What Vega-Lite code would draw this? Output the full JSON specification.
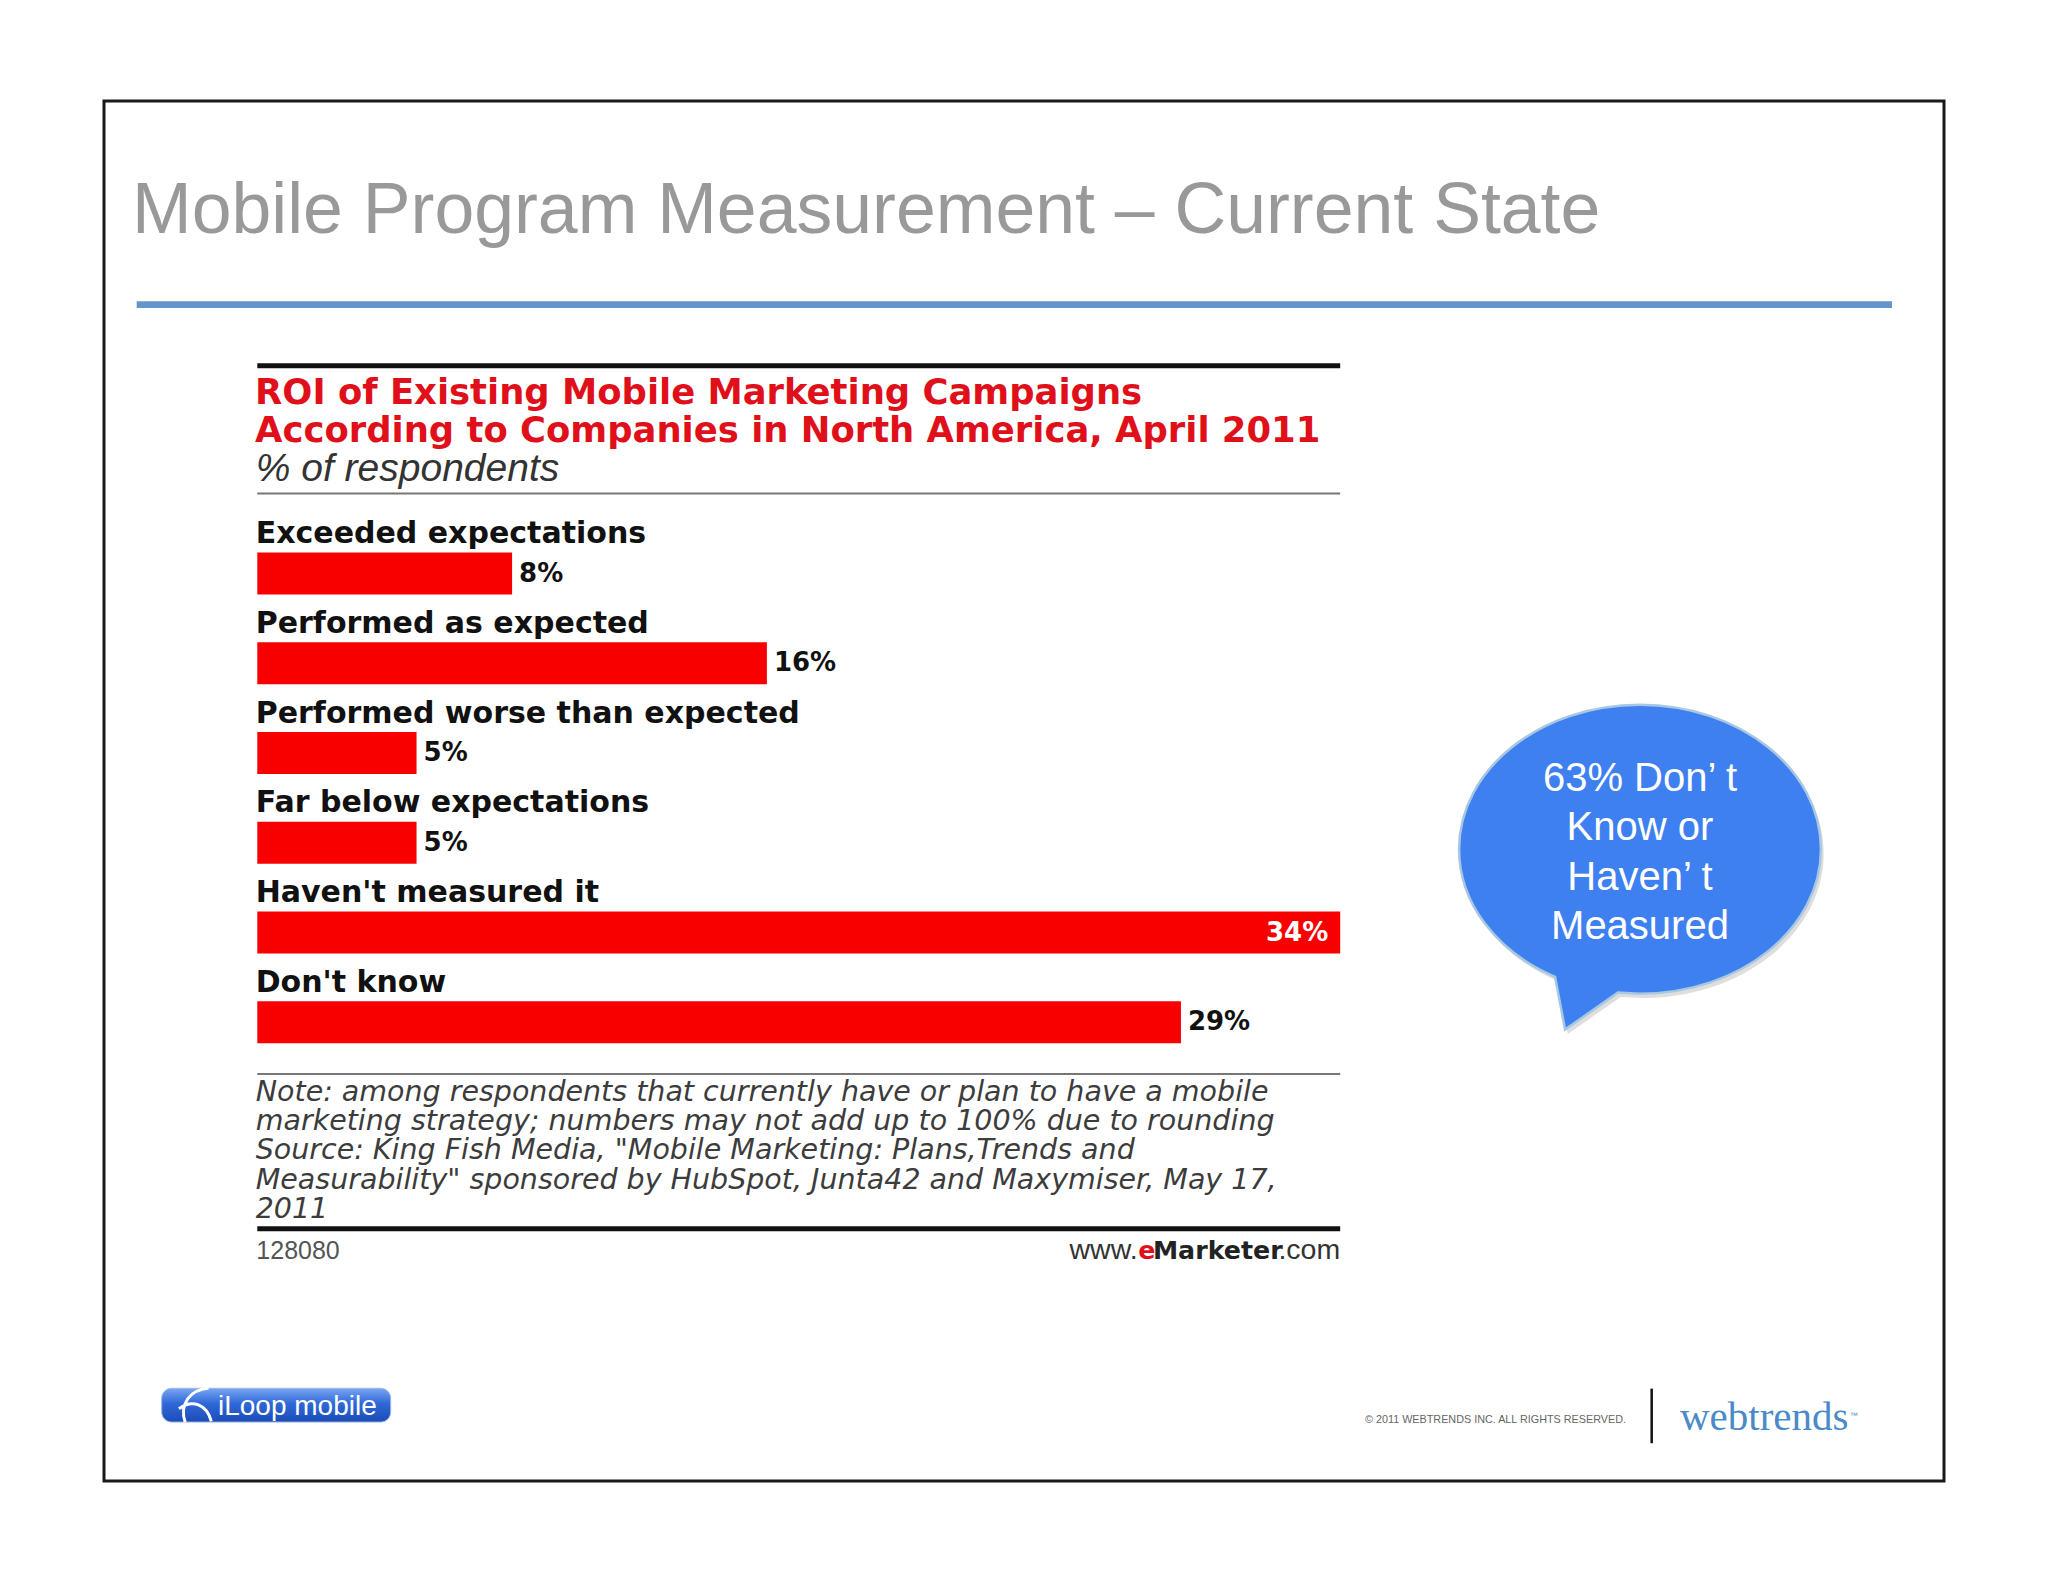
{
  "$schema": "https://vega.github.io/schema/vega-lite/v6.json",
  "width": 1840,
  "height": 1380,
  "autosize": {"type": "none"},
  "padding": {"left": 104, "top": 101, "right": 104, "bottom": 101},
  "background": "#ffffff",
  "config": {"view": {"stroke": "#1a1a1a", "strokeWidth": 3}, "axis": {"disable": true}},
  "datasets": {
    "roi": [
      {"rank": 1, "label": "Exceeded expectations", "pct": 8, "value_label": "8%"},
      {"rank": 2, "label": "Performed as expected", "pct": 16, "value_label": "16%"},
      {"rank": 3, "label": "Performed worse than expected", "pct": 5, "value_label": "5%"},
      {"rank": 4, "label": "Far below expectations", "pct": 5, "value_label": "5%"},
      {"rank": 5, "label": "Haven't measured it", "pct": 34, "value_label": "34%"},
      {"rank": 6, "label": "Don't know", "pct": 29, "value_label": "29%"}
    ],
    "one": [{}]
  },
  "layer": [
    {
      "data": {"name": "one"},
      "mark": {"type": "text", "text": "Mobile Program Measurement – Current State", "font": "Liberation Sans", "fontSize": 71.6, "fill": "#999999", "align": "left", "baseline": "alphabetic"},
      "encoding": {
        "x": {"datum": -3.934, "type": "quantitative", "scale": {"domain": [-4.813, 52.958], "nice": false, "zero": false}},
        "y": {"datum": -2.791, "type": "quantitative", "scale": {"domain": [-4.2102, 11.0553], "nice": false, "zero": false, "reverse": true}}
      }
    },
    {
      "data": {"name": "one"},
      "mark": {"type": "rule", "color": "#6395c9", "strokeWidth": 6.7},
      "encoding": {
        "x": {"datum": -3.787, "type": "quantitative", "scale": {"domain": [-4.813, 52.958], "nice": false, "zero": false}},
        "x2": {"datum": 51.325},
        "y": {"datum": -1.998, "type": "quantitative", "scale": {"domain": [-4.2102, 11.0553], "nice": false, "zero": false, "reverse": true}}
      }
    },
    {
      "data": {"name": "one"},
      "mark": {"type": "rule", "color": "#111111", "strokeWidth": 5},
      "encoding": {
        "x": {"datum": 0, "type": "quantitative", "scale": {"domain": [-4.813, 52.958], "nice": false, "zero": false}},
        "x2": {"datum": 34},
        "y": {"datum": -1.315, "type": "quantitative", "scale": {"domain": [-4.2102, 11.0553], "nice": false, "zero": false, "reverse": true}}
      }
    },
    {
      "data": {"name": "one"},
      "mark": {"type": "text", "text": ["ROI of Existing Mobile Marketing Campaigns", "According to Companies in North America, April 2011"], "font": "DejaVu Sans", "fontWeight": "bold", "fontSize": 35.4, "lineHeight": 38, "fill": "#e0101a", "align": "left", "baseline": "alphabetic"},
      "encoding": {
        "x": {"datum": -0.07, "type": "quantitative", "scale": {"domain": [-4.813, 52.958], "nice": false, "zero": false}},
        "y": {"datum": -0.888, "type": "quantitative", "scale": {"domain": [-4.2102, 11.0553], "nice": false, "zero": false, "reverse": true}}
      }
    },
    {
      "data": {"name": "one"},
      "mark": {"type": "text", "text": "% of respondents", "font": "Liberation Sans", "fontStyle": "italic", "fontSize": 39, "fill": "#333333", "align": "left", "baseline": "alphabetic"},
      "encoding": {
        "x": {"datum": -0.05, "type": "quantitative", "scale": {"domain": [-4.813, 52.958], "nice": false, "zero": false}},
        "y": {"datum": -0.0288, "type": "quantitative", "scale": {"domain": [-4.2102, 11.0553], "nice": false, "zero": false, "reverse": true}}
      }
    },
    {
      "data": {"name": "one"},
      "mark": {"type": "rule", "color": "#777777", "strokeWidth": 2},
      "encoding": {
        "x": {"datum": 0, "type": "quantitative", "scale": {"domain": [-4.813, 52.958], "nice": false, "zero": false}},
        "x2": {"datum": 34},
        "y": {"datum": 0.1066, "type": "quantitative", "scale": {"domain": [-4.2102, 11.0553], "nice": false, "zero": false, "reverse": true}}
      }
    },
    {
      "data": {"name": "roi"},
      "mark": {"type": "bar", "orient": "horizontal", "height": 42, "color": "#f80000"},
      "encoding": {
        "x": {"field": "pct", "type": "quantitative", "scale": {"domain": [-4.813, 52.958], "nice": false, "zero": false}},
        "y": {"field": "rank", "type": "quantitative", "scale": {"domain": [-4.2102, 11.0553], "nice": false, "zero": false, "reverse": true}}
      }
    },
    {
      "data": {"name": "roi"},
      "mark": {"type": "text", "font": "DejaVu Sans", "fontWeight": "bold", "fontSize": 30, "fill": "#111111", "align": "left", "baseline": "alphabetic", "dy": -30.5},
      "encoding": {
        "x": {"datum": -0.05, "type": "quantitative", "scale": {"domain": [-4.813, 52.958], "nice": false, "zero": false}},
        "y": {"field": "rank", "type": "quantitative", "scale": {"domain": [-4.2102, 11.0553], "nice": false, "zero": false, "reverse": true}},
        "text": {"field": "label"}
      }
    },
    {
      "data": {"name": "roi"},
      "transform": [{"filter": "datum.pct < 34"}],
      "mark": {"type": "text", "font": "DejaVu Sans", "fontWeight": "bold", "fontSize": 26, "fill": "#111111", "align": "left", "baseline": "middle", "dx": 7},
      "encoding": {
        "x": {"field": "pct", "type": "quantitative", "scale": {"domain": [-4.813, 52.958], "nice": false, "zero": false}},
        "y": {"field": "rank", "type": "quantitative", "scale": {"domain": [-4.2102, 11.0553], "nice": false, "zero": false, "reverse": true}},
        "text": {"field": "value_label"}
      }
    },
    {
      "data": {"name": "roi"},
      "transform": [{"filter": "datum.pct >= 34"}],
      "mark": {"type": "text", "font": "DejaVu Sans", "fontWeight": "bold", "fontSize": 26, "fill": "#ffffff", "align": "right", "baseline": "middle", "dx": -12},
      "encoding": {
        "x": {"field": "pct", "type": "quantitative", "scale": {"domain": [-4.813, 52.958], "nice": false, "zero": false}},
        "y": {"field": "rank", "type": "quantitative", "scale": {"domain": [-4.2102, 11.0553], "nice": false, "zero": false, "reverse": true}},
        "text": {"field": "value_label"}
      }
    },
    {
      "data": {"name": "one"},
      "mark": {"type": "rule", "color": "#777777", "strokeWidth": 2},
      "encoding": {
        "x": {"datum": 0, "type": "quantitative", "scale": {"domain": [-4.813, 52.958], "nice": false, "zero": false}},
        "x2": {"datum": 34},
        "y": {"datum": 6.575, "type": "quantitative", "scale": {"domain": [-4.2102, 11.0553], "nice": false, "zero": false, "reverse": true}}
      }
    },
    {
      "data": {"name": "one"},
      "mark": {"type": "text", "text": ["Note: among respondents that currently have or plan to have a mobile", "marketing strategy; numbers may not add up to 100% due to rounding", "Source: King Fish Media, \"Mobile Marketing: Plans,Trends and", "Measurability\" sponsored by HubSpot, Junta42 and Maxymiser, May 17,", "2011"], "font": "DejaVu Sans", "fontStyle": "italic", "fontSize": 28.5, "lineHeight": 29.2, "fill": "#3c3c3c", "align": "left", "baseline": "alphabetic"},
      "encoding": {
        "x": {"datum": -0.05, "type": "quantitative", "scale": {"domain": [-4.813, 52.958], "nice": false, "zero": false}},
        "y": {"datum": 6.877, "type": "quantitative", "scale": {"domain": [-4.2102, 11.0553], "nice": false, "zero": false, "reverse": true}}
      }
    },
    {
      "data": {"name": "one"},
      "mark": {"type": "rule", "color": "#111111", "strokeWidth": 5},
      "encoding": {
        "x": {"datum": 0, "type": "quantitative", "scale": {"domain": [-4.813, 52.958], "nice": false, "zero": false}},
        "x2": {"datum": 34},
        "y": {"datum": 8.3006, "type": "quantitative", "scale": {"domain": [-4.2102, 11.0553], "nice": false, "zero": false, "reverse": true}}
      }
    },
    {
      "data": {"name": "one"},
      "mark": {"type": "text", "text": "128080", "font": "Liberation Sans", "fontSize": 25, "fill": "#555555", "align": "left", "baseline": "alphabetic"},
      "encoding": {
        "x": {"datum": -0.03, "type": "quantitative", "scale": {"domain": [-4.813, 52.958], "nice": false, "zero": false}},
        "y": {"datum": 8.632, "type": "quantitative", "scale": {"domain": [-4.2102, 11.0553], "nice": false, "zero": false, "reverse": true}}
      }
    },
    {
      "data": {"name": "one"},
      "mark": {"type": "text", "text": "www.", "font": "Liberation Sans", "fontSize": 28.5, "fill": "#333333", "align": "left", "baseline": "alphabetic"},
      "encoding": {
        "x": {"datum": 25.5, "type": "quantitative", "scale": {"domain": [-4.813, 52.958], "nice": false, "zero": false}},
        "y": {"datum": 8.632, "type": "quantitative", "scale": {"domain": [-4.2102, 11.0553], "nice": false, "zero": false, "reverse": true}}
      }
    },
    {
      "data": {"name": "one"},
      "mark": {"type": "text", "text": "e", "font": "DejaVu Sans", "fontWeight": "bold", "fontSize": 25.3, "fill": "#e0101a", "align": "left", "baseline": "alphabetic"},
      "encoding": {
        "x": {"datum": 27.66, "type": "quantitative", "scale": {"domain": [-4.813, 52.958], "nice": false, "zero": false}},
        "y": {"datum": 8.632, "type": "quantitative", "scale": {"domain": [-4.2102, 11.0553], "nice": false, "zero": false, "reverse": true}}
      }
    },
    {
      "data": {"name": "one"},
      "mark": {"type": "text", "text": "Marketer", "font": "DejaVu Sans", "fontWeight": "bold", "fontSize": 25.3, "fill": "#222222", "align": "left", "baseline": "alphabetic"},
      "encoding": {
        "x": {"datum": 28.12, "type": "quantitative", "scale": {"domain": [-4.813, 52.958], "nice": false, "zero": false}},
        "y": {"datum": 8.632, "type": "quantitative", "scale": {"domain": [-4.2102, 11.0553], "nice": false, "zero": false, "reverse": true}}
      }
    },
    {
      "data": {"name": "one"},
      "mark": {"type": "text", "text": ".com", "font": "Liberation Sans", "fontSize": 28.5, "fill": "#333333", "align": "right", "baseline": "alphabetic"},
      "encoding": {
        "x": {"datum": 34, "type": "quantitative", "scale": {"domain": [-4.813, 52.958], "nice": false, "zero": false}},
        "y": {"datum": 8.632, "type": "quantitative", "scale": {"domain": [-4.2102, 11.0553], "nice": false, "zero": false, "reverse": true}}
      }
    },
    {
      "data": {"name": "one"},
      "mark": {"type": "point", "filled": true, "opacity": 0.35, "color": "#a0a0a0", "size": 136900, "shape": "M -0.4591 0.5923 C -0.7784 0.4567 -0.978 0.1915 -0.978 -0.0973 C -0.978 -0.5286 -0.5401 -0.8783 0 -0.8783 C 0.5401 -0.8783 0.978 -0.5286 0.978 -0.0973 C 0.978 0.334 0.5401 0.6837 0 0.6837 L -0.1192 0.6779 L -0.405 0.878 Z"},
      "encoding": {
        "x": {"datum": 43.5, "type": "quantitative", "scale": {"domain": [-4.813, 52.958], "nice": false, "zero": false}},
        "y": {"datum": 4.32, "type": "quantitative", "scale": {"domain": [-4.2102, 11.0553], "nice": false, "zero": false, "reverse": true}}
      }
    },
    {
      "data": {"name": "one"},
      "mark": {"type": "point", "filled": true, "opacity": 1, "fill": "#3f80f0", "stroke": "#a8c8e2", "strokeWidth": 2.5, "size": 136900, "shape": "M -0.4591 0.5923 C -0.7784 0.4567 -0.978 0.1915 -0.978 -0.0973 C -0.978 -0.5286 -0.5401 -0.8783 0 -0.8783 C 0.5401 -0.8783 0.978 -0.5286 0.978 -0.0973 C 0.978 0.334 0.5401 0.6837 0 0.6837 L -0.1192 0.6779 L -0.405 0.878 Z"},
      "encoding": {
        "x": {"datum": 43.413, "type": "quantitative", "scale": {"domain": [-4.813, 52.958], "nice": false, "zero": false}},
        "y": {"datum": 4.2717, "type": "quantitative", "scale": {"domain": [-4.2102, 11.0553], "nice": false, "zero": false, "reverse": true}}
      }
    },
    {
      "data": {"name": "one"},
      "mark": {"type": "text", "text": ["63% Don’ t", "Know or", "Haven’ t", "Measured"], "font": "Liberation Sans", "fontSize": 40, "lineHeight": 49.3, "fill": "#ffffff", "align": "center", "baseline": "alphabetic"},
      "encoding": {
        "x": {"datum": 43.413, "type": "quantitative", "scale": {"domain": [-4.813, 52.958], "nice": false, "zero": false}},
        "y": {"datum": 3.4226, "type": "quantitative", "scale": {"domain": [-4.2102, 11.0553], "nice": false, "zero": false, "reverse": true}}
      }
    },
    {
      "data": {"name": "one"},
      "mark": {"type": "rect", "cornerRadius": 10, "stroke": "#9db8e8", "strokeWidth": 1, "color": {"gradient": "linear", "x1": 0, "y1": 0, "x2": 0, "y2": 1, "stops": [{"offset": 0, "color": "#79a6f2"}, {"offset": 0.45, "color": "#2f68d8"}, {"offset": 1, "color": "#1c4cb6"}]}},
      "encoding": {
        "x": {"datum": -3.0016, "type": "quantitative", "scale": {"domain": [-4.813, 52.958], "nice": false, "zero": false}},
        "x2": {"datum": 4.1884},
        "y": {"datum": 10.0782, "type": "quantitative", "scale": {"domain": [-4.2102, 11.0553], "nice": false, "zero": false, "reverse": true}},
        "y2": {"datum": 10.4543}
      }
    },
    {
      "data": {"name": "one"},
      "mark": {"type": "point", "filled": false, "opacity": 1, "color": "#ffffff", "strokeWidth": 3, "size": 1296, "shape": "M 0.7 -0.95 C -0.3 -0.85 -0.95 -0.1 -0.6 0.95 M -0.95 0.2 C -0.2 -0.35 0.6 -0.05 0.85 0.9"},
      "encoding": {
        "x": {"datum": -1.925, "type": "quantitative", "scale": {"domain": [-4.813, 52.958], "nice": false, "zero": false}},
        "y": {"datum": 10.2663, "type": "quantitative", "scale": {"domain": [-4.2102, 11.0553], "nice": false, "zero": false, "reverse": true}}
      }
    },
    {
      "data": {"name": "one"},
      "mark": {"type": "text", "text": "iLoop mobile", "font": "Liberation Sans", "fontSize": 28, "fill": "#ffffff", "align": "left", "baseline": "alphabetic"},
      "encoding": {
        "x": {"datum": -1.234, "type": "quantitative", "scale": {"domain": [-4.813, 52.958], "nice": false, "zero": false}},
        "y": {"datum": 10.3725, "type": "quantitative", "scale": {"domain": [-4.2102, 11.0553], "nice": false, "zero": false, "reverse": true}}
      }
    },
    {
      "data": {"name": "one"},
      "mark": {"type": "text", "text": "© 2011  WEBTRENDS INC. ALL RIGHTS RESERVED.", "font": "Liberation Sans", "fontSize": 10.8, "fill": "#666666", "align": "left", "baseline": "alphabetic"},
      "encoding": {
        "x": {"datum": 34.779, "type": "quantitative", "scale": {"domain": [-4.813, 52.958], "nice": false, "zero": false}},
        "y": {"datum": 10.4654, "type": "quantitative", "scale": {"domain": [-4.2102, 11.0553], "nice": false, "zero": false, "reverse": true}}
      }
    },
    {
      "data": {"name": "one"},
      "mark": {"type": "rule", "color": "#111111", "strokeWidth": 2.5},
      "encoding": {
        "x": {"datum": 43.78, "type": "quantitative", "scale": {"domain": [-4.813, 52.958], "nice": false, "zero": false}},
        "y": {"datum": 10.0815, "type": "quantitative", "scale": {"domain": [-4.2102, 11.0553], "nice": false, "zero": false, "reverse": true}},
        "y2": {"datum": 10.69}
      }
    },
    {
      "data": {"name": "one"},
      "mark": {"type": "text", "text": "webtrends", "font": "Liberation Serif", "fontSize": 41, "fill": "#4a8ac8", "align": "left", "baseline": "alphabetic"},
      "encoding": {
        "x": {"datum": 44.669, "type": "quantitative", "scale": {"domain": [-4.813, 52.958], "nice": false, "zero": false}},
        "y": {"datum": 10.5384, "type": "quantitative", "scale": {"domain": [-4.2102, 11.0553], "nice": false, "zero": false, "reverse": true}}
      }
    },
    {
      "data": {"name": "one"},
      "mark": {"type": "text", "text": "™", "font": "Liberation Sans", "fontSize": 8, "fill": "#4a8ac8", "align": "left", "baseline": "alphabetic"},
      "encoding": {
        "x": {"datum": 50.0, "type": "quantitative", "scale": {"domain": [-4.813, 52.958], "nice": false, "zero": false}},
        "y": {"datum": 10.413, "type": "quantitative", "scale": {"domain": [-4.2102, 11.0553], "nice": false, "zero": false, "reverse": true}}
      }
    }
  ]
}
